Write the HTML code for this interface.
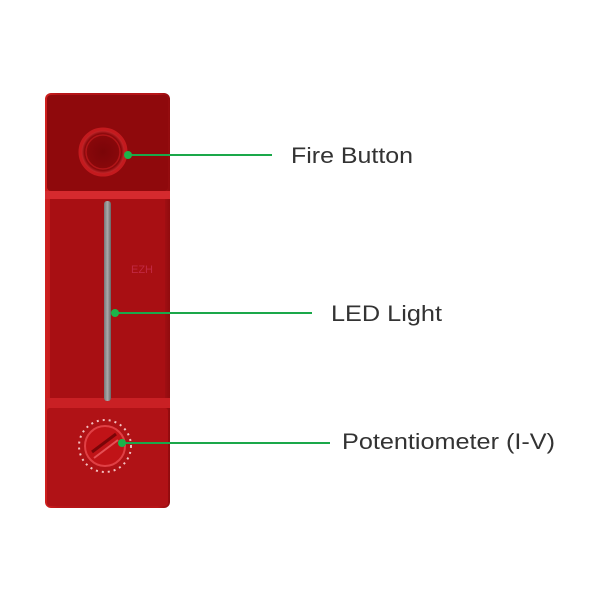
<!DOCTYPE html>
<html><head><style>
body{margin:0;background:#fff;width:600px;height:600px;overflow:hidden;font-family:"Liberation Sans",Arial,sans-serif}
</style></head><body>
<svg width="600" height="600" xmlns="http://www.w3.org/2000/svg">
<defs>
<linearGradient id="body" x1="0" x2="1">
<stop offset="0" stop-color="#d0201f"/><stop offset="0.1" stop-color="#b81518"/><stop offset="0.5" stop-color="#b01216"/><stop offset="0.9" stop-color="#b81518"/><stop offset="1" stop-color="#900b0e"/>
</linearGradient>
<radialGradient id="btn" cx="0.5" cy="0.5" r="0.5"><stop offset="0" stop-color="#7a0508"/><stop offset="0.8" stop-color="#8a080b"/><stop offset="1" stop-color="#e0363a"/></radialGradient>
<linearGradient id="led" x1="0" x2="1"><stop offset="0" stop-color="#777"/><stop offset="0.5" stop-color="#aaa"/><stop offset="1" stop-color="#666"/></linearGradient>
</defs>
<rect x="45" y="93" width="125" height="415" rx="6" fill="url(#body)"/>
<rect x="47" y="95" width="121" height="96" rx="4" fill="#8f090c"/>
<rect x="45" y="191" width="125" height="8" fill="#d52a2e"/>
<rect x="50" y="199" width="115" height="200" fill="#a80f13"/>
<rect x="45" y="398" width="125" height="10" fill="#c92024"/>
<rect x="47" y="408" width="121" height="98" rx="3" fill="#b01216"/>
<circle cx="103" cy="152" r="23" fill="url(#btn)" stroke="#c41a1e" stroke-width="3"/>
<circle cx="103" cy="152" r="17" fill="none" stroke="#b11518" stroke-width="1.5"/>
<rect x="104" y="201" width="7" height="200" rx="3" fill="url(#led)"/>
<text x="131" y="273" font-size="11" fill="#c35" opacity="0.7">EZH</text>
<circle cx="105" cy="446" r="26" fill="none" stroke="#f2c0c0" stroke-width="2" stroke-dasharray="2 4"/>
<circle cx="105" cy="446" r="20" fill="#c01317" stroke="#e04045" stroke-width="2"/>
<path d="M92 452 L116 434" stroke="#7a0508" stroke-width="3"/>
<path d="M94 458 L118 440" stroke="#e45055" stroke-width="2"/>
<line x1="128" y1="155" x2="272" y2="155" stroke="#1aa84a" stroke-width="2"/>
<circle cx="128" cy="155" r="4" fill="#1ab44a"/>
<line x1="115" y1="313" x2="312" y2="313" stroke="#1aa84a" stroke-width="2"/>
<circle cx="115" cy="313" r="4" fill="#1ab44a"/>
<line x1="122" y1="443" x2="330" y2="443" stroke="#1aa84a" stroke-width="2"/>
<circle cx="122" cy="443" r="4" fill="#1ab44a"/>
<g font-size="22" fill="#333">
<text x="291" y="163" textLength="122" lengthAdjust="spacingAndGlyphs">Fire Button</text>
<text x="331" y="321" textLength="111" lengthAdjust="spacingAndGlyphs">LED Light</text>
<text x="342" y="449" textLength="213" lengthAdjust="spacingAndGlyphs">Potentiometer (I-V)</text>
</g>
</svg>
</body></html>
